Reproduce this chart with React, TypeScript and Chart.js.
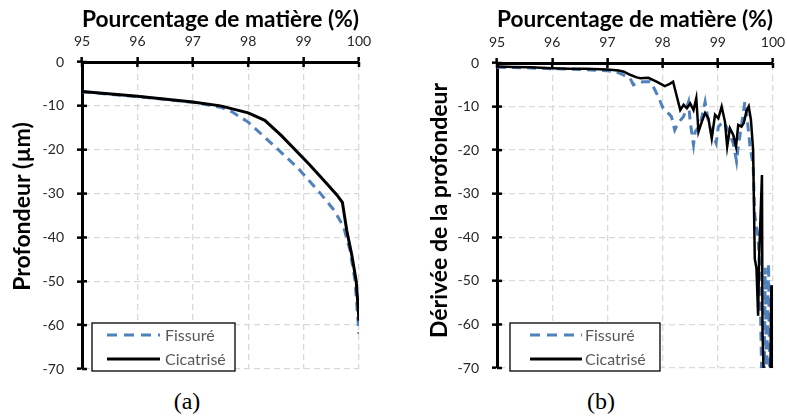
import React, { useEffect, useRef } from "react";
import { Chart, registerables } from "chart.js";

Chart.register(...registerables);

// ---------- data ----------
const X_TICKS = [95, 96, 97, 98, 99, 100];
const Y_TICKS = [0, -10, -20, -30, -40, -50, -60, -70];
const X_TITLE = "Pourcentage de matière (%)";
const A_Y_TITLE = "Profondeur (µm)";
const B_Y_TITLE = "Dérivée de la profondeur";
const SERIES_NAMES = ["Fissuré", "Cicatrisé"];
const CAPTIONS = ["(a)", "(b)"];

// (a) Profondeur
const aFissureX = [95, 96, 97, 97.5, 97.7, 98, 98.5, 98.9, 99.3, 99.55, 99.72, 99.84, 99.93, 100];
const aFissureY = [-6.8, -7.9, -9.2, -10.3, -11.3, -13.7, -19.5, -24.2, -29.9, -33.8, -37.5, -43, -50, -62];
const aCicatriseX = [95, 96, 97, 97.5, 98, 98.3, 98.6, 99.1, 99.4, 99.6, 99.7, 99.78, 99.87, 99.95, 100];
const aCicatriseY = [-6.7, -7.8, -9.1, -10.0, -11.6, -13.3, -16.8, -23.3, -27.5, -30.3, -32, -38.5, -44, -50, -59];

// (b) Dérivée de la profondeur
const bFissureX = [95, 95.5, 96, 96.5, 97, 97.15, 97.29, 97.41, 97.47, 97.55, 97.65, 97.77, 97.83, 97.92, 98.01, 98.1, 98.16, 98.22, 98.28, 98.38, 98.47, 98.5, 98.56, 98.59, 98.68, 98.77, 98.83, 98.89, 98.97, 99.01, 99.1, 99.19, 99.28, 99.34, 99.37, 99.43, 99.49, 99.52, 99.58, 99.64, 99.67, 99.73, 99.76, 99.8, 99.84, 99.86, 99.88, 99.92, 99.94];
const bFissureY = [-1.0, -1.1, -1.3, -1.5, -1.8, -2.0, -2.75, -3.5, -5.0, -4.6, -4.3, -4.3, -5.4, -7.7, -10.4, -11.5, -12.3, -15.4, -13.8, -12.3, -8.9, -13.5, -18.8, -15.8, -14.2, -8.9, -13.5, -16.1, -18.4, -14.6, -13.5, -15.4, -18.4, -22.6, -19.2, -14.2, -8.9, -11.2, -18.8, -23.4, -35, -40, -47, -75, -75, -47, -75, -46, -75];
const bCicatriseX = [95, 95.3, 95.6, 96, 96.3, 96.6, 97, 97.2, 97.3, 97.41, 97.53, 97.6, 97.74, 97.89, 98.04, 98.13, 98.19, 98.25, 98.32, 98.38, 98.44, 98.5, 98.56, 98.61, 98.65, 98.71, 98.77, 98.83, 98.89, 98.95, 99.01, 99.07, 99.13, 99.17, 99.22, 99.28, 99.33, 99.37, 99.43, 99.47, 99.52, 99.56, 99.6, 99.64, 99.67, 99.7, 99.73, 99.75, 99.8, 99.81, 99.84, 99.95, 99.97, 99.98];
const bCicatriseY = [-0.8, -0.9, -1.0, -1.2, -1.3, -1.3, -1.5, -1.7, -2.0, -2.7, -3.3, -3.5, -3.4, -4.3, -5.3, -4.8, -4.3, -7.3, -10.8, -9.6, -10.4, -9.3, -10.8, -8.1, -15.8, -13.5, -11.5, -12.7, -17.3, -11.9, -12.7, -10, -13.5, -19.2, -15, -16.5, -19.2, -14.2, -14.6, -13.8, -11, -10, -13, -20, -45, -47, -58, -44, -25.7, -62, -75, -75, -51, -75];

// ---------- styles ----------
const BLUE = "#4F81BD";
const BLACK = "#000000";
const GRID = "#d9d9d9";
const FONT = "Lato, 'Open Sans', sans-serif";

const toPoints = (xs: number[], ys: number[]) => xs.map((x, i) => ({ x, y: ys[i] }));

const inwardTicks = {
  id: "inwardTicks",
  afterDraw(chart: any) {
    const { ctx, chartArea, scales } = chart;
    ctx.save();
    ctx.strokeStyle = "#000";
    ctx.lineWidth = 2.5;
    scales.x.ticks.forEach((t: any) => {
      const px = scales.x.getPixelForValue(t.value);
      ctx.beginPath();
      ctx.moveTo(px, chartArea.top);
      ctx.lineTo(px, chartArea.top + 5);
      ctx.stroke();
    });
    scales.y.ticks.forEach((t: any) => {
      const py = scales.y.getPixelForValue(t.value);
      ctx.beginPath();
      ctx.moveTo(chartArea.left, py);
      ctx.lineTo(chartArea.left + 5, py);
      ctx.stroke();
    });
    ctx.restore();
  },
};

// rotated y-axis title, positioned relative to the chart area
const sideTitle = {
  id: "sideTitle",
  afterDraw(chart: any, _args: any, opts: any) {
    const { ctx, chartArea } = chart;
    ctx.save();
    ctx.translate(opts.x, (chartArea.top + chartArea.bottom) / 2 + opts.dy);
    ctx.rotate(-Math.PI / 2);
    ctx.font = `bold 23px ${FONT}`;
    ctx.fillStyle = "#000";
    ctx.textAlign = "center";
    ctx.textBaseline = "middle";
    ctx.fillText(opts.text, 0, 0);
    ctx.restore();
  },
};

const boxLegend = {
  id: "boxLegend",
  afterDraw(chart: any, _args: any, opts: any) {
    const { ctx } = chart;
    const { x, y, w, h, lineStart, lineEnd, textX } = opts;
    ctx.save();
    ctx.fillStyle = "#fff";
    ctx.fillRect(x, y, w, h);
    ctx.strokeStyle = "#000";
    ctx.lineWidth = 1.3;
    ctx.strokeRect(x, y, w, h);
    const rows = [
      { name: SERIES_NAMES[0], color: BLUE, dash: [10, 7], width: 3, yy: y + 12 },
      { name: SERIES_NAMES[1], color: BLACK, dash: [], width: 3, yy: y + 36 },
    ];
    rows.forEach((r) => {
      ctx.beginPath();
      ctx.setLineDash(r.dash);
      ctx.strokeStyle = r.color;
      ctx.lineWidth = r.width;
      ctx.moveTo(x + lineStart, r.yy);
      ctx.lineTo(x + lineEnd, r.yy);
      ctx.stroke();
      ctx.setLineDash([]);
      ctx.fillStyle = "#595959";
      ctx.font = `16px ${FONT}`;
      ctx.textBaseline = "middle";
      ctx.textAlign = "left";
      ctx.fillText(r.name, x + textX, r.yy + 1);
    });
    ctx.restore();
  },
};

function makeConfig(p: any) {
  return {
    type: "line",
    data: {
      datasets: [
        {
          label: SERIES_NAMES[0],
          data: toPoints(p.fx, p.fy),
          borderColor: BLUE,
          borderWidth: p.blueWidth,
          borderDash: [9, 6],
          pointRadius: 0,
          tension: 0,
          order: 1,
        },
        {
          label: SERIES_NAMES[1],
          data: toPoints(p.cx, p.cy),
          borderColor: BLACK,
          borderWidth: p.blackWidth,
          pointRadius: 0,
          tension: 0,
          order: 0,
        },
      ],
    },
    options: {
      animation: false,
      responsive: false,
      devicePixelRatio: 1,
      layout: { padding: p.padding },
      plugins: {
        legend: { display: false },
        tooltip: { enabled: false },
        boxLegend: p.legend,
        sideTitle: p.sideTitle,
      },
      scales: {
        x: {
          type: "linear",
          position: "top",
          min: 95,
          max: 100,
          afterBuildTicks: (s: any) => {
            s.ticks = X_TICKS.map((v) => ({ value: v }));
          },
          afterFit: (s: any) => {
            s.height = p.xHeight;
            s.paddingLeft = 0;
            s.paddingRight = 0;
          },
          ticks: {
            font: { family: FONT, size: 14 },
            color: "#262626",
            padding: 7,
          },
          grid: {
            color: GRID,
            lineWidth: 1.3,
            tickColor: "#000",
            tickWidth: 2.5,
            tickLength: 5,
          },
          border: { color: "#000", width: 3, dash: [6, 4] },
          title: {
            display: true,
            text: X_TITLE,
            color: "#000",
            font: { family: FONT, size: 23, weight: "bold" },
            padding: { top: 6, bottom: 0 },
          },
        },
        y: {
          type: "linear",
          min: -70,
          max: 0,
          afterBuildTicks: (s: any) => {
            s.ticks = Y_TICKS.map((v) => ({ value: v }));
          },
          afterFit: (s: any) => {
            s.width = p.yWidth;
            s.paddingTop = 0;
            s.paddingBottom = 0;
          },
          ticks: {
            font: { family: FONT, size: 14 },
            color: "#262626",
            padding: 13,
          },
          grid: {
            color: GRID,
            lineWidth: 1.3,
            tickColor: "#000",
            tickWidth: 2.5,
            tickLength: 5,
          },
          border: { color: "#000", width: 3, dash: [6, 4] },
          title: { display: false },
        },
      },
    },
    plugins: [inwardTicks, boxLegend, sideTitle],
  } as any;
}

export default function App() {
  const refA = useRef<HTMLCanvasElement>(null);
  const refB = useRef<HTMLCanvasElement>(null);

  useEffect(() => {
    document.body.style.margin = "0";
    const a = new Chart(
      refA.current!,
      makeConfig({
        fx: aFissureX,
        fy: aFissureY,
        cx: aCicatriseX,
        cy: aCicatriseY,
        sideTitle: { text: A_Y_TITLE, x: 23, dy: -9 },
        xHeight: 62,
        yWidth: 82,
        padding: { left: 0, top: 0, right: 34, bottom: 11 },
        blueWidth: 3,
        blackWidth: 3,
        legend: { x: 92, y: 323, w: 143, h: 48, lineStart: 15, lineEnd: 68, textX: 73 },
      })
    );
    const b = new Chart(
      refB.current!,
      makeConfig({
        fx: bFissureX,
        fy: bFissureY,
        cx: bCicatriseX,
        cy: bCicatriseY,
        sideTitle: { text: B_Y_TITLE, x: 47, dy: -5 },
        xHeight: 63,
        yWidth: 104,
        padding: { left: 0, top: 0, right: 14, bottom: 12 },
        blueWidth: 3,
        blackWidth: 2.5,
        legend: { x: 117, y: 323, w: 150, h: 48, lineStart: 20, lineEnd: 72, textX: 75 },
      })
    );
    return () => {
      a.destroy();
      b.destroy();
    };
  }, []);

  const captionStyle: React.CSSProperties = {
    position: "absolute",
    top: 386,
    width: 80,
    textAlign: "center",
    fontFamily: "'Liberation Serif', 'DejaVu Serif', serif",
    fontSize: 24,
    lineHeight: "30px",
    color: "#000",
  };

  return (
    <div style={{ position: "relative", width: 787, height: 418, background: "#fff" }}>
      <canvas ref={refA} width={393} height={380} style={{ position: "absolute", left: 0, top: 0, width: 393, height: 380 }} />
      <canvas ref={refB} width={394} height={380} style={{ position: "absolute", left: 393, top: 0, width: 394, height: 380 }} />
      <div style={{ ...captionStyle, left: 187 - 40 }}>{CAPTIONS[0]}</div>
      <div style={{ ...captionStyle, left: 601 - 40 }}>{CAPTIONS[1]}</div>
    </div>
  );
}
